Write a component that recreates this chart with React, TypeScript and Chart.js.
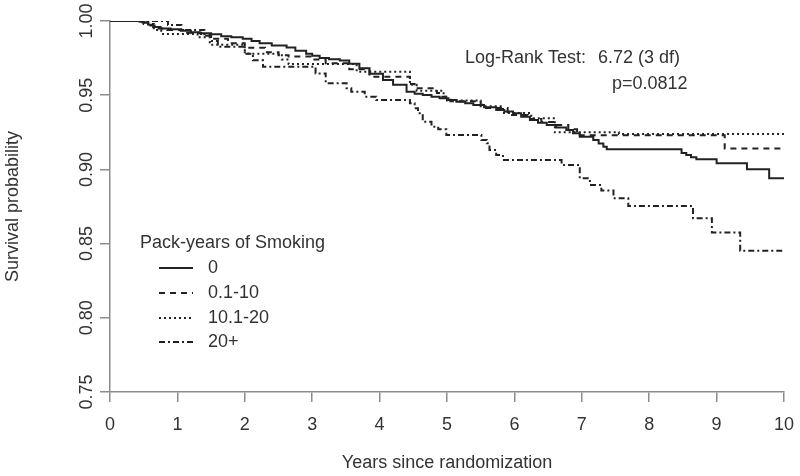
import React, { useEffect, useRef } from 'react';
import { Chart, registerables } from 'chart.js';

Chart.register(...registerables);

// ---------- data ----------
const groupLabels = ['0', '0.1-10', '10.1-20', '20+'];

const timesNone = [0, 0.44, 0.5, 0.57, 0.64, 0.75, 0.9, 1.05, 1.2, 1.33, 1.5, 1.65, 1.8, 1.97, 2.1, 2.22, 2.4, 2.62, 2.75, 2.91, 3.0, 3.11, 3.25, 3.41, 3.55, 3.7, 3.85, 4.05, 4.2, 4.4, 4.52, 4.64, 4.77, 4.89, 5.02, 5.14, 5.27, 5.39, 5.55, 5.73, 5.85, 5.98, 6.1, 6.23, 6.35, 6.48, 6.62, 6.77, 6.87, 6.97, 7.17, 7.25, 7.32, 7.37, 8.48, 8.55, 8.62, 8.7, 9.0, 9.45, 9.78, 10];
const survNone = [1, 0.9995, 0.999, 0.9975, 0.996, 0.995, 0.9945, 0.9935, 0.9925, 0.9917, 0.991, 0.9897, 0.989, 0.988, 0.9865, 0.985, 0.9835, 0.9822, 0.98, 0.978, 0.9765, 0.975, 0.9742, 0.9733, 0.9712, 0.9681, 0.9645, 0.9602, 0.957, 0.9524, 0.951, 0.9501, 0.949, 0.9479, 0.9468, 0.9456, 0.9445, 0.9434, 0.9418, 0.94, 0.939, 0.9378, 0.9355, 0.9333, 0.9315, 0.93, 0.9283, 0.9265, 0.9243, 0.922, 0.9198, 0.9175, 0.9153, 0.9135, 0.911, 0.9097, 0.9082, 0.9068, 0.9041, 0.9001, 0.894, 0.894];

const timesLow = [0, 0.45, 0.55, 0.7, 0.85, 1.1, 1.35, 1.5, 1.75, 2.0, 2.3, 2.5, 2.65, 3.0, 3.2, 3.55, 3.85, 4.45, 4.52, 4.85, 4.92, 5.05, 5.5, 5.55, 5.9, 5.95, 6.2, 6.4, 6.6, 6.8, 6.93, 9.12, 10];
const survLow = [1, 0.999, 0.997, 0.995, 0.994, 0.992, 0.99, 0.988, 0.985, 0.982, 0.979, 0.977, 0.976, 0.974, 0.9715, 0.9675, 0.9625, 0.9575, 0.9546, 0.9515, 0.949, 0.946, 0.9435, 0.9414, 0.9385, 0.9367, 0.934, 0.932, 0.93, 0.927, 0.923, 0.914, 0.914];

const timesMid = [0, 0.5, 0.65, 0.76, 1.3, 1.48, 2.0, 2.55, 2.65, 3.66, 4.45, 4.55, 4.95, 5.0, 5.5, 5.83, 6.25, 6.6, 7.55, 10];
const survMid = [1, 0.998, 0.994, 0.9912, 0.989, 0.984, 0.978, 0.974, 0.971, 0.9658, 0.957, 0.953, 0.949, 0.9465, 0.9425, 0.938, 0.9345, 0.925, 0.9239, 0.9239];

const timesHigh = [0, 0.86, 1.06, 1.4, 1.5, 1.6, 2.0, 2.12, 2.27, 3.05, 3.2, 3.51, 3.58, 3.78, 3.95, 4.45, 4.52, 4.57, 4.64, 4.77, 4.87, 4.99, 5.51, 5.59, 5.63, 5.73, 5.83, 6.7, 6.97, 7.12, 7.29, 7.47, 7.69, 8.65, 8.93, 9.35, 10];
const survHigh = [1, 0.9973, 0.994, 0.991, 0.9865, 0.9827, 0.978, 0.9735, 0.9692, 0.9647, 0.958, 0.9547, 0.9524, 0.949, 0.9468, 0.9445, 0.9412, 0.9378, 0.9321, 0.9288, 0.927, 0.9232, 0.9198, 0.9176, 0.9131, 0.9097, 0.9063, 0.903, 0.894, 0.8895, 0.8857, 0.8805, 0.8753, 0.867, 0.8574, 0.8452, 0.8452];

const xTickValues = [0, 1, 2, 3, 4, 5, 6, 7, 8, 9, 10];
const yTickValues = [0.75, 0.8, 0.85, 0.9, 0.95, 1.0];

const xAxisTitle = 'Years since randomization';
const yAxisTitle = 'Survival probability';
const legendTitle = 'Pack-years of Smoking';
const testLabel = 'Log-Rank Test:';
const testStat = '6.72 (3 df)';
const testP = 'p=0.0812';

// ---------- styles ----------
const FONT = '"Liberation Sans", Arial, sans-serif';
const FONT_SIZE = 18;
const TEXT = '#333333';
const AXIS = '#8c8c8c';
const LINE = '#222222';
const dashes: number[][] = [[], [6, 5], [2, 3], [6, 3, 2, 3]];

const toPoints = (t: number[], s: number[]) => t.map((x, i) => ({ x, y: s[i] }));

const overlayPlugin = {
  id: 'overlay',
  afterDatasetsDraw(chart: any) {
    const ctx = chart.ctx;
    ctx.save();
    ctx.font = `${FONT_SIZE}px ${FONT}`;
    ctx.fillStyle = TEXT;
    ctx.textBaseline = 'middle';
    ctx.textAlign = 'left';
    ctx.fillText(testLabel, 465, 58);
    ctx.fillText(testStat, 598, 58);
    ctx.fillText(testP, 612, 84);
    ctx.fillText(legendTitle, 140, 243);
    const rows = [268, 293, 318, 342];
    chart.data.datasets.forEach((ds: any, i: number) => {
      ctx.fillStyle = TEXT;
      ctx.fillText(ds.label, 208, rows[i]);
      ctx.beginPath();
      ctx.setLineDash(ds.borderDash || []);
      ctx.lineWidth = ds.borderWidth;
      ctx.strokeStyle = ds.borderColor;
      ctx.moveTo(159, rows[i]);
      ctx.lineTo(193, rows[i]);
      ctx.stroke();
      ctx.setLineDash([]);
    });
    ctx.restore();
  },
};

export default function App() {
  const canvasRef = useRef<HTMLCanvasElement | null>(null);

  useEffect(() => {
    const canvas = canvasRef.current;
    if (!canvas) return;
    const series = [
      toPoints(timesNone, survNone),
      toPoints(timesLow, survLow),
      toPoints(timesMid, survMid),
      toPoints(timesHigh, survHigh),
    ];
    const font = { family: FONT, size: FONT_SIZE };
    const chart = new Chart(canvas, {
      type: 'line',
      data: {
        datasets: series.map((data, i) => ({
          label: groupLabels[i],
          data,
          borderColor: LINE,
          borderWidth: 2,
          borderDash: dashes[i],
          pointRadius: 0,
          stepped: true,
          fill: false,
          tension: 0,
        })),
      },
      options: {
        responsive: false,
        animation: false,
        events: [],
        layout: { padding: { left: 0, right: 16, top: 21, bottom: 0 } },
        plugins: { legend: { display: false }, tooltip: { enabled: false } },
        scales: {
          x: {
            type: 'linear',
            min: 0,
            max: 10,
            afterBuildTicks: (s: any) => {
              s.ticks = xTickValues.map((v) => ({ value: v }));
            },
            afterFit: (s: any) => {
              s.height = 84;
              s.paddingLeft = 0;
              s.paddingRight = 0;
            },
            ticks: {
              font,
              color: TEXT,
              padding: 12,
              maxRotation: 0,
              autoSkip: false,
              callback: (v: any) => String(v),
            },
            grid: { drawOnChartArea: false, drawTicks: true, tickLength: 10, color: AXIS, lineWidth: 1.5 },
            border: { display: true, color: AXIS, width: 1.5 },
            title: { display: true, text: xAxisTitle, font, color: TEXT, padding: { top: 0, bottom: 2 } },
          },
          y: {
            type: 'linear',
            min: 0.75,
            max: 1.0,
            afterBuildTicks: (s: any) => {
              s.ticks = yTickValues.map((v) => ({ value: v }));
            },
            afterFit: (s: any) => {
              s.width = 110;
              s.paddingTop = 0;
              s.paddingBottom = 0;
            },
            ticks: {
              font,
              color: TEXT,
              padding: -5,
              minRotation: 90,
              maxRotation: 90,
              crossAlign: 'center',
              autoSkip: false,
              callback: (v: any) => Number(v).toFixed(2),
            },
            grid: { drawOnChartArea: false, drawTicks: true, tickLength: 10, color: AXIS, lineWidth: 1.5 },
            border: { display: true, color: AXIS, width: 1.5 },
            title: { display: true, text: yAxisTitle, font, color: TEXT, padding: { top: 2, bottom: 0 } },
          },
        },
      } as any,
      plugins: [overlayPlugin],
    });
    return () => chart.destroy();
  }, []);

  return (
    <div style={{ position: 'absolute', left: 0, top: 0, width: 800, height: 476, background: '#ffffff' }}>
      <canvas ref={canvasRef} width={800} height={476} />
    </div>
  );
}
